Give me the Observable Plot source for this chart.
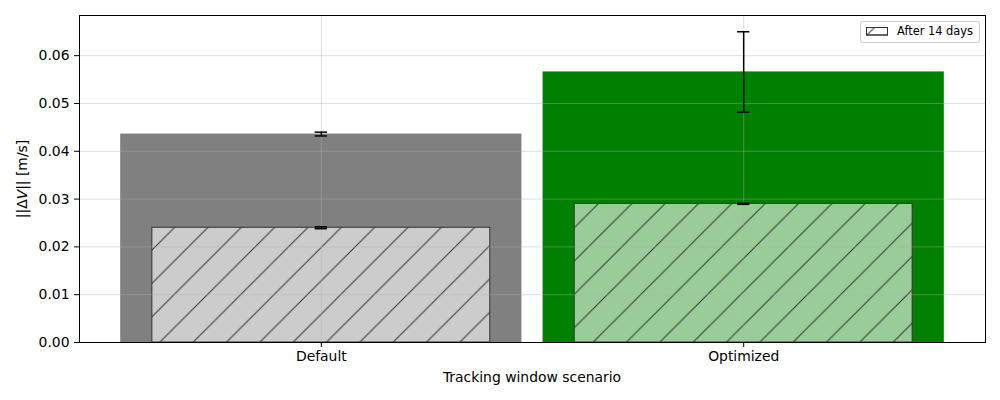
<!DOCTYPE html>
<html><head><meta charset="utf-8">
<script src="https://cdn.jsdelivr.net/npm/d3@7"></script>
<script src="https://cdn.jsdelivr.net/npm/@observablehq/plot@0.6"></script>
<style>body{margin:0;background:#fff;} svg{display:block;}</style>
</head><body><div id="chart"></div>
<script>
// ---- data ----
const categories = ["Default", "Optimized"];
const totalValues = [0.0436, 0.0566];
const totalErrors = [0.0004, 0.0084];
const after14Values = [0.0240, 0.0290];
const after14Errors = [0.0002, 0.0001];
const yTicks = [0, 0.01, 0.02, 0.03, 0.04, 0.05, 0.06];
const xLabel = "Tracking window scenario";
const legendLabel = "After 14 days";

// ---- styles ----
const fullColor = {Default: "#808080", Optimized: "#008000"};
const lightColor = {Default: "#cccccc", Optimized: "#99cc99"};
const outerHalf = 0.475, innerHalf = 0.4, capHalf = 0.0145;
const edge = "#333333";

const totals = categories.map((c, i) => ({name: c, i, value: totalValues[i], err: totalErrors[i]}));
const after = categories.map((c, i) => ({name: c, i, value: after14Values[i], err: after14Errors[i]}));

const errMarks = (data) => [
  Plot.ruleX(data, {x: "i", y1: d => d.value - d.err, y2: d => d.value + d.err, stroke: "black", strokeWidth: 1.5}),
  Plot.ruleY(data, {y: d => d.value - d.err, x1: d => d.i - capHalf, x2: d => d.i + capHalf, stroke: "black", strokeWidth: 1.5}),
  Plot.ruleY(data, {y: d => d.value + d.err, x1: d => d.i - capHalf, x2: d => d.i + capHalf, stroke: "black", strokeWidth: 1.5})
];

const plot = Plot.plot({
  width: 1000, height: 400,
  marginLeft: 79, marginRight: 15, marginTop: 15, marginBottom: 58,
  style: {fontFamily: "DejaVu Sans, sans-serif", fontSize: "13.9px", color: "black", background: "white"},
  x: {type: "linear", domain: [-0.5725, 1.5725]},
  y: {domain: [0, 0.0684]},
  color: {type: "identity"},
  marks: [
    Plot.rectY(totals, {x1: d => d.i - outerHalf, x2: d => d.i + outerHalf, y1: 0, y2: "value", fill: d => fullColor[d.name]}),
    Plot.rectY(after, {x1: d => d.i - innerHalf, x2: d => d.i + innerHalf, y1: 0, y2: "value", fill: d => lightColor[d.name]}),
    Plot.rectY(after, {x1: d => d.i - innerHalf, x2: d => d.i + innerHalf, y1: 0, y2: "value", fill: "white", stroke: edge, strokeWidth: 1, className: "hatched"}),
    Plot.gridY({ticks: yTicks, stroke: "#b0b0b0", strokeOpacity: 0.5, strokeWidth: 0.8}),
    Plot.gridX({ticks: [0, 1], stroke: "#b0b0b0", strokeOpacity: 0.5, strokeWidth: 0.8}),
    ...errMarks(totals),
    ...errMarks(after),
    Plot.axisY({ticks: yTicks, tickFormat: d3.format(".2f"), tickSize: 5, tickPadding: 5, label: null}),
    Plot.axisX({ticks: [0, 1], tickFormat: i => categories[i], tickSize: 5, tickPadding: 4, label: null}),
    Plot.frame({stroke: "black", strokeWidth: 1})
  ]
});

const svg = d3.select(plot);
const defs = svg.insert("defs", ":first-child");
const pat = defs.append("pattern").attr("id", "hatch").attr("patternUnits", "userSpaceOnUse")
  .attr("width", 100/3).attr("height", 100/3).attr("patternTransform", "translate(2,0)");
pat.append("path").attr("d", "M-2,35.33 L35.33,-2 M-10,10 L10,-10 M23.33,43.33 L43.33,23.33")
  .attr("stroke", edge).attr("stroke-width", 1).attr("fill", "none");
svg.selectAll(".hatched rect").attr("fill", "url(#hatch)");

// axis titles
svg.append("text").attr("x", 532).attr("y", 382).attr("text-anchor", "middle")
  .attr("font-family", "DejaVu Sans").attr("font-size", "13.9px").text(xLabel);
const yl = svg.append("text").attr("transform", "translate(27,179) rotate(-90)").attr("text-anchor", "middle")
  .attr("font-family", "DejaVu Sans").attr("font-size", "13.9px");
yl.append("tspan").text("||Δ");
yl.append("tspan").attr("font-style", "italic").text("V");
yl.append("tspan").text("|| [m/s]");

// legend
const lg = svg.append("g");
lg.append("rect").attr("x", 860.5).attr("y", 21.5).attr("width", 119).attr("height", 21).attr("rx", 2)
  .attr("fill", "white").attr("fill-opacity", 0.8).attr("stroke", "#cccccc");
lg.append("rect").attr("x", 866.5).attr("y", 27.5).attr("width", 21).attr("height", 7.5)
  .attr("fill", "white").attr("stroke", edge);
lg.append("rect").attr("x", 866.5).attr("y", 27.5).attr("width", 21).attr("height", 7.5)
  .attr("fill", "url(#hatch)").attr("stroke", edge);
lg.append("text").attr("x", 897).attr("y", 35.3).attr("text-anchor", "start")
  .attr("font-family", "DejaVu Sans").attr("font-size", "11.4px").text(legendLabel);

document.getElementById("chart").appendChild(plot);
</script>
</body></html>
